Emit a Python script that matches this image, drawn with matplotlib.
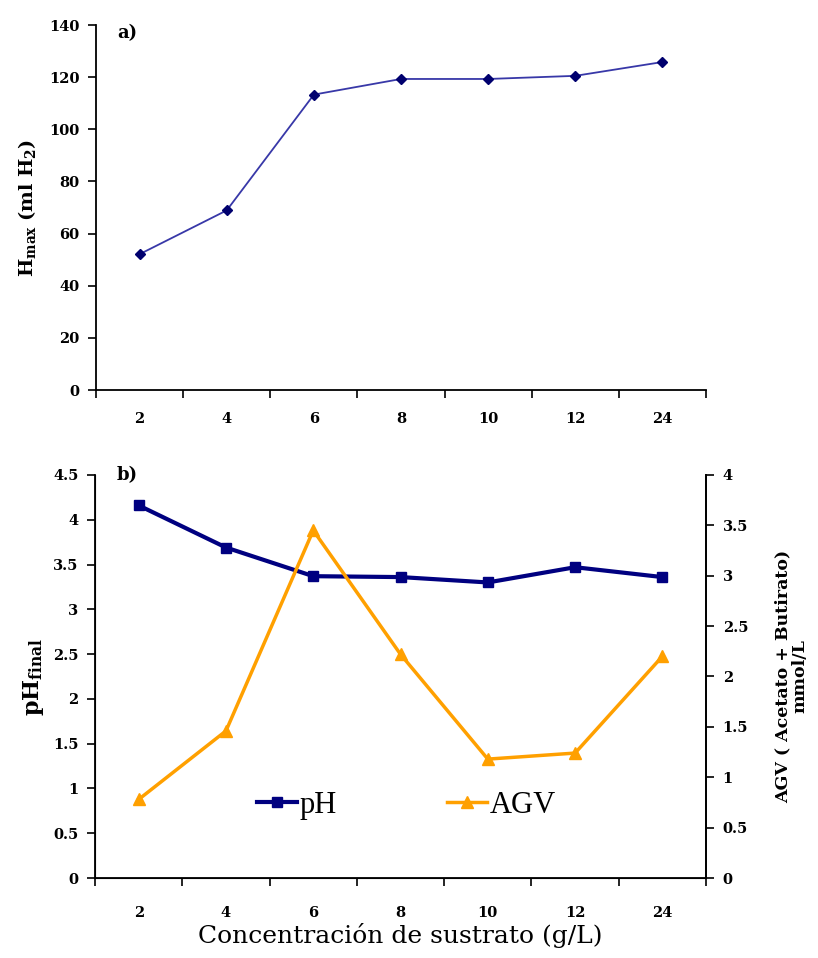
import matplotlib
matplotlib.use('Agg')
import matplotlib.pyplot as plt
import numpy as np

plt.rcParams['font.family'] = 'DejaVu Serif'
plt.rcParams['mathtext.fontset'] = 'dejavuserif'

# datos
conc = ['2', '4', '6', '8', '10', '12', '24']
hmax = [52.1, 68.9, 113.3, 119.3, 119.3, 120.5, 125.8]
ph_final = [4.16, 3.69, 3.37, 3.36, 3.30, 3.47, 3.36]
agv = [0.78, 1.46, 3.45, 2.22, 1.18, 1.24, 2.20]

x = np.arange(len(conc))

fig = plt.figure(figsize=(8.18, 9.58), dpi=100)
ax1 = fig.add_axes([0.1174, 0.5929, 0.7457, 0.381])
ax2 = fig.add_axes([0.1162, 0.0835, 0.7469, 0.4207])


def style_x(ax, pad):
    ax.set_xlim(-0.5, len(conc) - 0.5)
    ax.set_xticks(np.arange(-0.5, len(conc)))
    ax.set_xticklabels([])
    ax.set_xticks(x, minor=True)
    ax.set_xticklabels(conc, minor=True, fontweight='bold', fontsize=10.5)
    ax.tick_params(axis='x', which='major', direction='out', length=6, width=1.2)
    ax.tick_params(axis='x', which='minor', length=0, pad=pad)
    ax.spines['top'].set_visible(False)
    for s in ['left', 'bottom', 'right']:
        ax.spines[s].set_linewidth(1.3)
    ax.tick_params(axis='y', direction='out', length=6, width=1.2,
                   labelsize=10.5, pad=6)
    for lab in ax.get_yticklabels():
        lab.set_fontweight('bold')


# a)
ax1.plot(x, hmax, '-', color='#3838a8', lw=1.3, marker='D', ms=5,
         mfc='#00006e', mec='#00006e')
ax1.set_ylim(0, 140)
ax1.set_yticks(np.arange(0, 141, 20))
ax1.spines['right'].set_visible(False)
style_x(ax1, 16)
ax1.set_ylabel(r'$\mathbf{H_{max}}$ $\mathbf{(ml\ H_2)}$', fontsize=14, labelpad=8)
ax1.text(0.035, 0.978, 'a)', transform=ax1.transAxes, fontsize=13,
         fontweight='bold', va='center')

# b)
ax2.plot(x, ph_final, '-', color='#000080', lw=3, marker='s', ms=7,
         label='pH')
ax2.set_ylim(0, 4.5)
ax2.set_yticks(np.arange(0, 4.6, 0.5))
ax2.set_yticklabels(['0', '0.5', '1', '1.5', '2', '2.5', '3', '3.5', '4', '4.5'])
ax2.set_ylabel(r'$\mathbf{pH_{final}}$', fontsize=16, labelpad=5)
style_x(ax2, 20)
ax2.set_xlabel('Concentración de sustrato (g/L)', fontsize=18, labelpad=2)
ax2.text(0.035, 1.0, 'b)', transform=ax2.transAxes, fontsize=13,
         fontweight='bold', va='center')

ax3 = ax2.twinx()
ax3.plot(x, agv, '-', color='#ffa000', lw=2.5, marker='^', ms=8,
         label='AGV')
ax3.set_ylim(0, 4)
ax3.set_yticks(np.arange(0, 4.1, 0.5))
ax3.set_yticklabels(['0', '0.5', '1', '1.5', '2', '2.5', '3', '3.5', '4'])
ax3.spines['top'].set_visible(False)
ax3.spines['right'].set_linewidth(1.3)
ax3.tick_params(axis='y', direction='out', length=6, width=1.2,
                labelsize=10.5, pad=6)
for lab in ax3.get_yticklabels():
    lab.set_fontweight('bold')
ax3.set_ylabel('AGV ( Acetato + Butirato)\nmmol/L', fontsize=12.5,
               fontweight='bold', labelpad=19, linespacing=1.0)

h1, l1 = ax2.get_legend_handles_labels()
h2, l2 = ax3.get_legend_handles_labels()
ax2.legend(h1 + h2, l1 + l2, loc='center', bbox_to_anchor=(0.51, 0.18),
           ncol=2, frameon=False, prop={'family': 'Liberation Serif', 'size': 22},
           handlelength=1.3, handletextpad=0.1, columnspacing=3.6)

fig.savefig('out.png', dpi=100)
